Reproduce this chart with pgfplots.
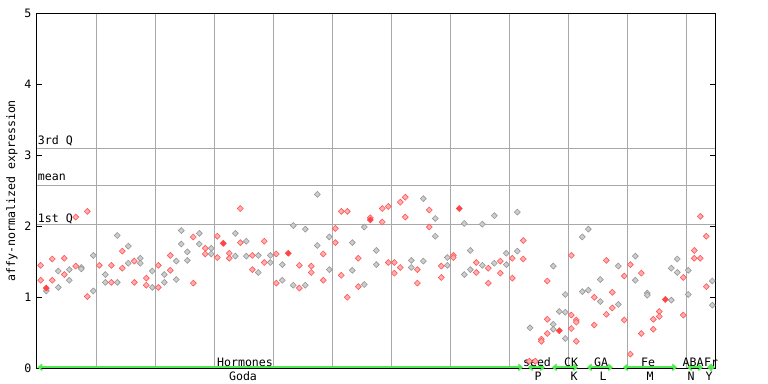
\documentclass[border=0pt]{standalone}
\usepackage{pgfplots}
\pgfplotsset{compat=1.18}
\usepackage{pgfplotstable}
\usepackage{fontspec}
\usetikzlibrary{arrows.meta}
\newfontfamily\monof{DejaVu Sans Mono}
\newcommand\mf{\monof\fontsize{11.6bp}{13bp}\selectfont}
\definecolor{gridgray}{RGB}{168,168,168}
\definecolor{ptred}{RGB}{255,85,85}
\definecolor{ptredfill}{RGB}{255,175,175}
\definecolor{ptgray}{RGB}{150,150,150}
\definecolor{ptgrayfill}{RGB}{205,205,205}
\definecolor{solidred}{RGB}{255,70,70}
\definecolor{arrgreen}{RGB}{80,235,80}
\tikzset{catarrow/.style={arrgreen, line width=1.6bp, {Straight Barb[length=3.5bp,width=6bp]}-{Straight Barb[length=3.5bp,width=6bp]}},
  toplab/.style={font=\mf, anchor=base, inner sep=0pt, yshift=1.6bp},
  botlab/.style={font=\mf, anchor=base, inner sep=0pt, yshift=-12.4bp}}

\pgfplotstableread{
x y
40.7 1.45
40.7 1.24
52.3 1.54
52.3 1.24
64.3 1.55
64.3 1.32
75.7 2.13
75.7 1.44
87.3 2.21
87.3 1.01
99.3 1.45
111.3 1.45
111.3 1.21
122.3 1.65
122.3 1.41
134.3 1.51
134.3 1.21
146.3 1.27
146.3 1.17
158.3 1.45
158.3 1.14
170.3 1.59
170.3 1.38
193.3 1.85
193.3 1.20
205.3 1.69
205.3 1.61
217.3 1.86
217.3 1.56
229.3 1.62
229.3 1.55
240.3 2.25
240.3 1.77
252.3 1.59
252.3 1.39
264.3 1.79
264.3 1.49
276.3 1.61
276.3 1.20
299.3 1.45
299.3 1.13
311.3 1.44
311.3 1.35
323.3 1.61
323.3 1.24
335.3 1.97
335.3 1.77
341.3 2.21
341.3 1.31
347.3 2.21
347.3 1.00
358.3 1.55
358.3 1.15
370.3 2.12
382.3 2.25
382.3 2.06
388.3 2.28
388.3 1.49
394.3 1.49
394.3 1.34
400.3 2.34
400.3 1.42
405.3 2.41
405.3 2.13
417.3 1.39
417.3 1.20
429.3 2.23
429.3 1.99
441.3 1.44
441.3 1.28
453.3 1.59
453.3 1.56
476.3 1.49
476.3 1.35
488.3 1.41
488.3 1.20
500.3 1.51
500.3 1.34
512.3 1.55
512.3 1.27
523.3 1.80
523.3 1.54
529.3 0.10
535.3 0.10
541.3 0.41
541.3 0.38
547.3 1.23
547.3 0.69
547.3 0.49
571.3 1.59
571.3 0.75
571.3 0.56
576.3 0.68
576.3 0.65
576.3 0.38
594.3 1.00
594.3 0.61
606.3 1.52
606.3 0.76
612.3 1.07
612.3 0.85
624.3 1.30
624.3 0.68
630.3 1.46
630.3 0.20
641.3 1.34
641.3 0.49
653.3 0.69
653.3 0.55
659.3 0.80
659.3 0.73
683.3 1.28
683.3 0.75
694.3 1.66
694.3 1.55
700.3 2.14
700.3 1.55
706.3 1.86
706.3 1.15
}\redpts

\pgfplotstableread{
x y
46.3 1.09
58.3 1.37
58.3 1.14
69.3 1.39
69.3 1.24
81.3 1.42
81.3 1.40
93.3 1.59
93.3 1.09
105.3 1.32
105.3 1.21
117.3 1.87
117.3 1.21
128.3 1.72
128.3 1.48
140.3 1.55
140.3 1.48
152.3 1.37
152.3 1.14
164.3 1.32
164.3 1.21
176.3 1.51
176.3 1.25
181.3 1.94
181.3 1.75
187.3 1.64
187.3 1.52
199.3 1.90
199.3 1.75
211.3 1.69
211.3 1.61
235.3 1.90
235.3 1.58
246.3 1.79
246.3 1.58
258.3 1.59
258.3 1.35
270.3 1.59
270.3 1.49
282.3 1.46
282.3 1.24
293.3 2.01
293.3 1.17
305.3 1.96
305.3 1.17
317.3 2.45
317.3 1.73
329.3 1.85
329.3 1.39
352.3 1.77
352.3 1.38
364.3 1.99
364.3 1.18
376.3 1.66
376.3 1.46
411.3 1.52
411.3 1.42
423.3 2.39
423.3 1.51
435.3 2.11
435.3 1.86
447.3 1.56
447.3 1.45
464.3 2.04
464.3 1.32
470.3 1.66
470.3 1.39
482.3 2.03
482.3 1.45
494.3 2.15
494.3 1.48
506.3 1.62
506.3 1.46
517.3 2.20
517.3 1.65
530.0 0.57
553.3 1.44
553.3 0.62
553.3 0.55
559.3 0.80
565.3 1.04
565.3 0.79
565.3 0.42
582.3 1.85
582.3 1.08
588.3 1.96
588.3 1.10
600.3 1.25
600.3 0.94
618.3 1.44
618.3 0.90
635.3 1.58
635.3 1.24
647.3 1.06
647.3 1.03
671.3 1.41
671.3 0.96
677.3 1.54
677.3 1.35
688.3 1.38
688.3 1.04
712.3 1.23
712.3 0.89
}\graypts

\pgfplotstableread{
x y
46.3 1.13
223.3 1.76
288.3 1.62
370.3 2.09
459.3 2.25
559.3 0.53
665.3 0.97
}\solidpts

\begin{document}
\begin{tikzpicture}
\useasboundingbox (0,0) rectangle (768bp,384bp);
\begin{axis}[
  at={(37bp,15.7bp)}, anchor=south west,
  scale only axis, width=678bp, height=355bp,
  xmin=37, xmax=715, ymin=0, ymax=5,
  clip=false,
  xtick={96,155,214,273,332,391,450,509,568,627,686},
  xticklabels={},
  xmajorgrids,
  x tick style={draw=none},
  ytick={0,1,2,3,4,5},
  y tick style={black, line width=1bp},
  major tick length=5bp,
  extra y ticks={2.03,2.58,3.10},
  extra y tick labels={},
  extra y tick style={grid=major, tick style={draw=none}},
  grid style={color=gridgray, line width=1bp},
  axis line style={black, line width=1bp},
  /pgf/number format/assume math mode=true,
  yticklabel style={font=\mf, xshift=-2bp},
  ylabel={affy-normalized expression},
  ylabel style={font=\mf, at={(axis description cs:-0.0369,0.5)}, anchor=center},
]
\addplot[only marks, mark=square*, mark size=2.1bp,
  mark options={rotate=45, draw=ptgray, fill=ptgrayfill, line width=0.6bp}]
  table[x=x,y=y]{\graypts};
\addplot[only marks, mark=square*, mark size=2.1bp,
  mark options={rotate=45, draw=ptred, fill=ptredfill, line width=0.6bp}]
  table[x=x,y=y]{\redpts};
\addplot[only marks, mark=square*, mark size=2.1bp,
  mark options={rotate=45, draw=solidred, fill=solidred, line width=0.6bp}]
  table[x=x,y=y]{\solidpts};

\node[font=\mf, anchor=base west, inner sep=0pt] at ([yshift=3.3bp]axis cs:37.7,3.10) {3rd Q};
\node[font=\mf, anchor=base west, inner sep=0pt] at ([yshift=4.3bp]axis cs:37.7,2.58) {mean};
\node[font=\mf, anchor=base west, inner sep=0pt] at ([yshift=1.8bp]axis cs:37.7,2.03) {1st Q};

\draw[catarrow] ([yshift=1bp]axis cs:37.5,0) -- ([yshift=1bp]axis cs:523,0);
\draw[catarrow] ([yshift=1bp]axis cs:528,0) -- ([yshift=1bp]axis cs:545,0);
\draw[catarrow] ([yshift=1bp]axis cs:552,0) -- ([yshift=1bp]axis cs:578,0);
\draw[catarrow] ([yshift=1bp]axis cs:587,0) -- ([yshift=1bp]axis cs:613,0);
\draw[catarrow] ([yshift=1bp]axis cs:623,0) -- ([yshift=1bp]axis cs:677,0);
\draw[catarrow] ([yshift=1bp]axis cs:687,0) -- ([yshift=1bp]axis cs:703,0);
\draw[catarrow] ([yshift=1bp]axis cs:707,0) -- ([yshift=1bp]axis cs:715,0);

\node[toplab] at (axis cs:245,0) {Hormones};
\node[toplab] at (axis cs:537,0) {seed};
\node[toplab] at (axis cs:571,0) {CK};
\node[toplab] at (axis cs:601,0) {GA};
\node[toplab] at (axis cs:648,0) {Fe};
\node[toplab] at (axis cs:693,0) {ABA};
\node[toplab] at (axis cs:711,0) {Fr};

\node[botlab] at (axis cs:243,0) {Goda};
\node[botlab] at (axis cs:538,0) {P};
\node[botlab] at (axis cs:574,0) {K};
\node[botlab] at (axis cs:603,0) {L};
\node[botlab] at (axis cs:650,0) {M};
\node[botlab] at (axis cs:691,0) {N};
\node[botlab] at (axis cs:709,0) {Y};
\end{axis}
\end{tikzpicture}
\end{document}
